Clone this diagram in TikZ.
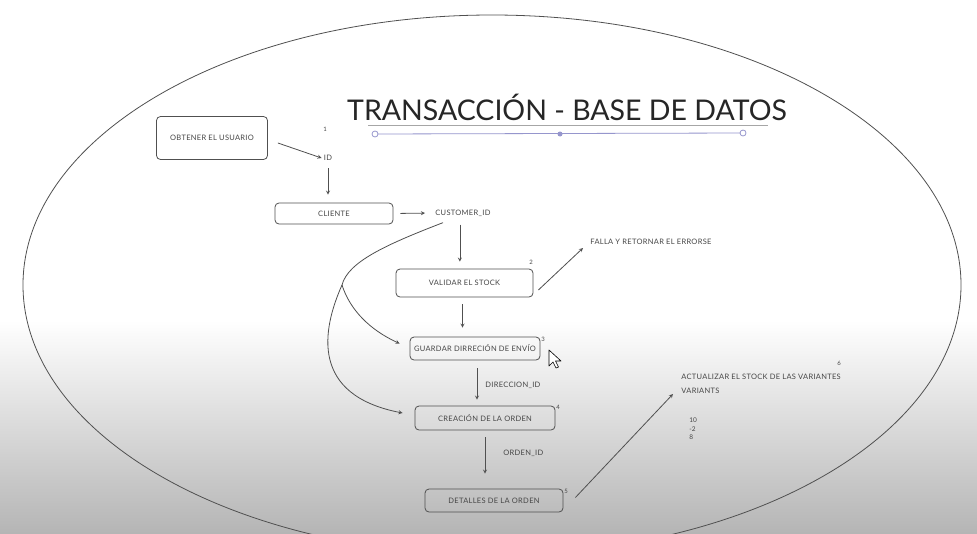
\documentclass[tikz,border=0pt]{standalone}
\usepackage{fontspec}
\setmainfont{Lato}
\newfontfamily\mano[LetterSpace=4]{Lato}
\definecolor{linea}{RGB}{80,80,80}
\definecolor{texto}{RGB}{70,70,70}
\definecolor{selec}{RGB}{150,150,205}

\begin{document}
\begin{tikzpicture}[x=1pt, y=-1pt, >=stealth, line width=0.8pt,
    caja/.style={draw=linea, rounded corners=4pt, font=\mano\fontsize{7.5}{9}\selectfont, text=texto},
    etiq/.style={font=\mano\fontsize{7.5}{9}\selectfont, text=texto, inner sep=2pt},
    num/.style={font=\fontsize{6}{7}\selectfont, text=texto, inner sep=1pt},
    flecha/.style={->, draw=linea}]
    \useasboundingbox (0,0) rectangle (977,533);
    \fill[white] (0,0) rectangle (977,320);
    \shade[top color=white, bottom color=black!29] (0,320) rectangle (977,533);
    \draw[linea] (492,285) ellipse [x radius=469, y radius=270];

    % titulo
    \node[font=\fontsize{28.5}{30}\selectfont, text=black!85] (titulo) at (567,107) {TRANSACCIÓN - BASE DE DATOS};
    \draw[gray!70] (368,125) -- (768,125);
    \draw[selec] (375,134) -- (743,133);
    \draw[selec, fill=white] (375,134) circle (3) (743,133) circle (3);
    \fill[selec] (560,134) circle (2.5);

    % cajas
    \node[caja, minimum width=111, minimum height=43] (obtener) at (212,138) {OBTENER EL USUARIO};
    \node[caja, minimum width=118, minimum height=21] (cliente) at (334,213.5) {CLIENTE};
    \node[caja, minimum width=137, minimum height=28] (validar) at (464.5,283) {VALIDAR EL STOCK};
    \node[caja, minimum width=130, minimum height=23] (guardar) at (475,348.5) {GUARDAR DIRRECIÓN DE ENVÍO};
    \node[caja, minimum width=140, minimum height=24] (creacion) at (485,418) {CREACIÓN DE LA ORDEN};
    \node[caja, minimum width=138, minimum height=23] (detalles) at (494,500.5) {DETALLES DE LA ORDEN};

    % etiquetas
    \node[etiq] (id) at (328,158) {ID};
    \node[etiq, anchor=west] (custid) at (433,213) {CUSTOMER\_ID};
    \node[etiq, anchor=west] (falla) at (588,242) {FALLA Y RETORNAR EL ERRORSE};
    \node[etiq, anchor=west] (direcid) at (483,385) {DIRECCION\_ID};
    \node[etiq, anchor=west] (ordenid) at (501,453) {ORDEN\_ID};
    \node[etiq, anchor=west] (actualizar) at (679,377) {ACTUALIZAR EL STOCK DE LAS VARIANTES};
    \node[etiq, anchor=west] (variants) at (679,391) {VARIANTS};
    \node[etiq, anchor=west, align=left, font=\fontsize{6.5}{8.5}\selectfont] (cantidades) at (687,429) {10\\-2\\8};

    \node[num] (n1) at (325,129) {1};
    \node[num] (n2) at (531,262) {2};
    \node[num] (n3) at (543,339) {3};
    \node[num] (n4) at (558,407) {4};
    \node[num] (n5) at (566,491) {5};
    \node[num] (n6) at (839,363) {6};

    % flechas
    \draw[flecha] ([shift={(10,5)}]obtener.east) -- (id.west);
    \draw[flecha, shorten <=5pt, shorten >=8pt] (id.south) -- (id.south |- cliente.north);
    \draw[flecha, shorten <=7pt, shorten >=8pt] (cliente.east) -- (custid.west);
    \draw[flecha, shorten <=6pt, shorten >=7pt] ([xshift=-3]custid.south) -- ([xshift=-3]custid.south |- validar.north);
    \draw[flecha] ([shift={(5,7)}]validar.east) -- ([shift={(-5,6)}]falla.west);
    \draw[flecha, shorten <=7pt, shorten >=9pt] ([xshift=-2]validar.south) -- ([xshift=-2]validar.south |- guardar.north);
    \draw[flecha, shorten <=8pt, shorten >=6pt] ([xshift=2]guardar.south) -- ([xshift=2]guardar.south |- creacion.north);
    \draw[flecha, shorten <=7pt, shorten >=15pt] (creacion.south) -- (creacion.south |- detalles.north);
    \draw[flecha] ([shift={(12,-3)}]detalles.east) -- ([shift={(-6,3)}]variants.west);

    \coordinate (bifurca) at (342,285);
    \draw[linea] ([shift={(10,4)}]custid.south west) .. controls (385,245) and (348,262) .. (bifurca);
    \draw[flecha] (bifurca) .. controls (350,310) and (370,330) .. ([shift={(-10,-5)}]guardar.west);
    \draw[flecha] (bifurca) .. controls (322,330) and (310,395) .. ([shift={(-12,-5)}]creacion.west);

    % cursor
    \draw[line width=0.6pt, fill=white, line join=round] (549,350) -- (549,366) -- (553,362) -- (556,368) -- (558.5,367) -- (555.5,361) -- (561,361) -- cycle;
\end{tikzpicture}
\end{document}
